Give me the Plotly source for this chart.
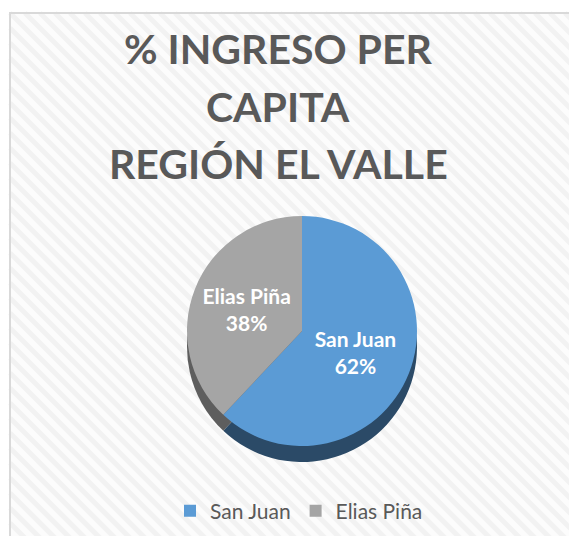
import plotly.graph_objects as go

# data
regions = ["San Juan", "Elias Piña"]
shares = [62, 38]
top_colors = ["#5B9BD5", "#A5A5A5"]
side_colors = ["#2B4A67", "#5E5E5E"]
title_lines = ["% INGRESO PER", "CAPITA", "REGIÓN EL VALLE"]

# page body adds an 8px margin, so keep the figure inside the window
W, H = 561, 528


def px_x(v):
    return v / W


def px_y(v):
    # v measured from top of the figure
    return 1 - v / H


fig = go.Figure()

# darker copy underneath, shifted down, to fake the 3d side of the pie
fig.add_trace(go.Pie(
    labels=regions,
    values=shares,
    sort=False,
    direction="clockwise",
    marker=dict(colors=side_colors, line=dict(width=0)),
    textinfo="none",
    hoverinfo="skip",
    showlegend=False,
    domain=dict(x=[px_x(179), px_x(409)], y=[px_y(454), px_y(224)]),
))

fig.add_trace(go.Pie(
    labels=regions,
    values=shares,
    sort=False,
    direction="clockwise",
    marker=dict(colors=top_colors, line=dict(width=0)),
    texttemplate="%{label}<br>%{percent:.0%}",
    textposition="inside",
    insidetextorientation="horizontal",
    textfont=dict(family="Lato", size=21, color="white", weight="bold"),
    domain=dict(x=[px_x(179), px_x(409)], y=[px_y(438), px_y(208)]),
))

# chart area background with light diagonal stripes, clipped to the frame
left, top = 2, 5
shapes = [dict(type="rect", xref="paper", yref="paper",
               x0=px_x(left), x1=2, y0=-1, y1=px_y(top),
               fillcolor="#fcfcfc", line=dict(width=0), layer="below")]
for k in range(-40, 45):
    x0 = left + k * 15
    y0 = top
    if x0 < left:
        y0 = top + (left - x0)
        x0 = left
    shapes.append(dict(type="line", xref="paper", yref="paper",
                       x0=px_x(x0), y0=px_y(y0), x1=px_x(x0 + 600), y1=px_y(y0 + 600),
                       line=dict(color="#f2f2f2", width=5), layer="below"))
shapes.append(dict(type="rect", xref="paper", yref="paper",
                   x0=px_x(left), x1=2, y0=-1, y1=px_y(top),
                   fillcolor="rgba(0,0,0,0)", line=dict(color="#d9d9d9", width=2),
                   layer="below"))

annotations = []
for i, line in enumerate(title_lines):
    annotations.append(dict(
        text=line, xref="paper", yref="paper",
        x=px_x(270), y=px_y(41 + i * 57.5), xanchor="center", yanchor="middle",
        showarrow=False,
        font=dict(family="Lato", size=41, color="#595959", weight="bold"),
    ))

fig.update_layout(
    width=W,
    height=H,
    margin=dict(l=0, r=0, t=0, b=0),
    paper_bgcolor="white",
    plot_bgcolor="white",
    shapes=shapes,
    annotations=annotations,
    legend=dict(
        orientation="h",
        x=px_x(291), xanchor="center",
        y=px_y(503), yanchor="middle",
        font=dict(family="Lato", size=21, color="#595959"),
        bgcolor="rgba(0,0,0,0)",
        itemwidth=30,
    ),
)

fig.write_html("out.html")
